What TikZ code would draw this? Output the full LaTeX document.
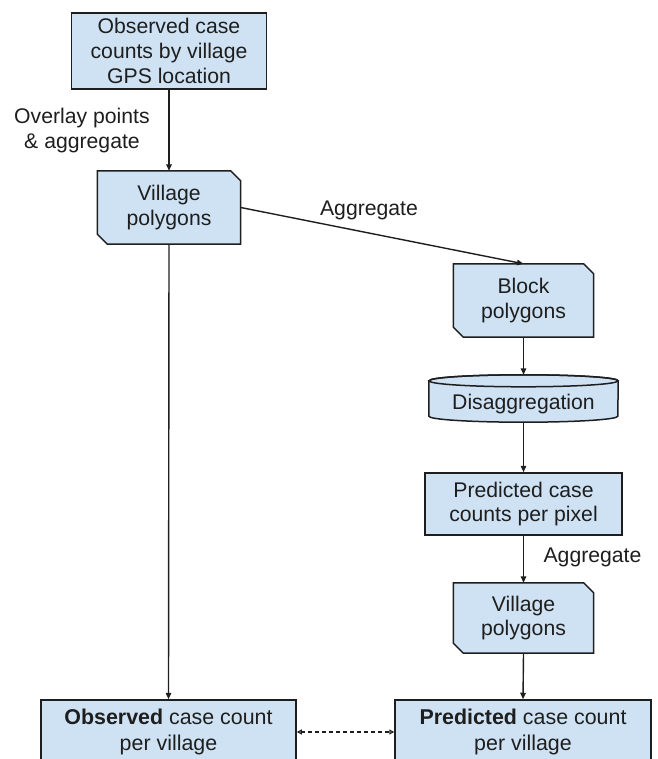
\documentclass[tikz,border=0pt]{standalone}
\usepackage{fontspec}
\setmainfont{Liberation Sans}
\usetikzlibrary{arrows.meta,backgrounds}
\definecolor{boxfill}{HTML}{CFE2F3}
\definecolor{edge}{HTML}{1E1E1E}
\begin{document}
\begin{tikzpicture}[x=1pt,y=-1pt,
  every node/.style={font=\fontsize{21.2}{24.8}\selectfont, text=edge},
  plain/.style={draw=edge, fill=boxfill, line width=1.5pt, align=center, inner sep=0pt},
  shp/.style={align=center, inner sep=0pt},
  shpfill/.style={draw=edge, fill=boxfill, line width=1.5pt, line join=miter},
  bigtext/.style={font=\fontsize{21.4}{26.5}\selectfont},
  conn/.style={draw=edge, line width=1.4pt, -{Triangle[length=6.5pt,width=5.5pt]}},
  dconn/.style={draw=edge, line width=1.1pt, dash pattern=on 4pt off 3pt,
     {Triangle[open,length=5pt,width=5pt]}-{Triangle[open,length=5pt,width=5pt]}},
  lbl/.style={align=center, inner sep=0pt}]
\useasboundingbox (0,0) rectangle (657,759);
\clip (0,0) rectangle (657,759);

\node[plain, minimum width=195pt, minimum height=76pt] (obs) at (169,51) {Observed case\\counts by village\\GPS location};
\node[shp, minimum width=143pt, minimum height=73pt] (v1) at (169,207.5) {Village\\polygons};
\node[shp, minimum width=140pt, minimum height=73pt] (blk) at (523.5,300.5) {Block\\polygons};
\node[shp, minimum width=189pt, minimum height=35pt] (dis) at (523.5,404.5) {Disaggregation};
\node[plain, minimum width=197pt, minimum height=62pt] (ppx) at (523.5,504) {Predicted case\\counts per pixel};
\node[shp, minimum width=140pt, minimum height=70pt] (v2) at (523.5,618) {Village\\polygons};
\node[plain, bigtext, minimum width=255pt, minimum height=64pt] (ocv) at (168.5,732) {\textbf{Observed} case count\\per village};
\node[plain, bigtext, minimum width=256pt, minimum height=64pt] (pcv) at (523,732) {\textbf{Predicted} case count\\per village};

\begin{scope}[on background layer]
\foreach \n in {v1,blk,v2}
  \path[shpfill] (\n.north west) -- ([xshift=-10pt]\n.north east) -- ([yshift=-10pt]\n.north east)
     -- (\n.south east) -- ([xshift=10pt]\n.south west) -- ([yshift=10pt]\n.south west) -- cycle;
\path[shpfill] ([yshift=6pt]dis.north west) -- ([yshift=6pt]dis.south west)
   arc[start angle=180, end angle=360, x radius=94.5pt, y radius=6pt]
   -- ([yshift=6pt]dis.north east)
   arc[start angle=0, end angle=180, x radius=94.5pt, y radius=6pt] -- cycle;
\draw[draw=edge, line width=1.5pt] ([yshift=6pt]dis.north) ellipse[x radius=94.5pt, y radius=6pt];
\end{scope}

\coordinate (distop) at ([yshift=12pt]dis.north);

\draw[conn] (obs.south) -- (v1.north);
\draw[conn] (v1.east) -- (blk.north);
\draw[conn] (v1.south) -- (ocv.north);
\draw[conn] (blk.south) -- (distop);
\draw[conn] (dis.south) -- (ppx.north);
\draw[conn] (ppx.south) -- (v2.north);
\draw[conn] (v2.south) -- (pcv.north);
\draw[dconn] (ocv.east) -- (pcv.west);

\node[lbl] (lab1) at (82,130.5) {Overlay points\\\& aggregate};
\node[lbl] (lab2) at (369,210) {Aggregate};
\node[lbl] (lab3) at (592.5,557) {Aggregate};
\end{tikzpicture}
\end{document}
